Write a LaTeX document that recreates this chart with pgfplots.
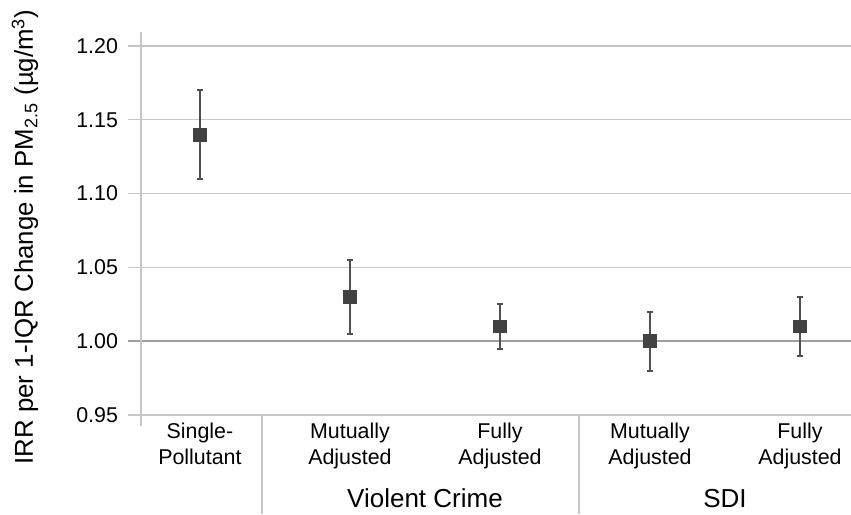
\documentclass[border=0pt]{standalone}
\usepackage{pgfplots}
\pgfplotsset{compat=1.18}
\usepackage{fontspec}
\setmainfont{Liberation Sans}
\definecolor{gridc}{HTML}{C6C6C6}
\definecolor{basec}{HTML}{9E9E9E}
\definecolor{markc}{HTML}{424242}
\definecolor{barc}{HTML}{505050}
\pgfplotstableread{
x y ep em
0 1.140 0.030 0.030
1 1.030 0.025 0.025
2 1.010 0.015 0.015
3 1.000 0.020 0.020
4 1.010 0.020 0.020
}\datatable
\begin{document}
\begin{tikzpicture}
\begin{axis}[
  scale only axis, width=355pt, height=197pt,
  xmin=-0.393, xmax=4.34, ymin=0.9425, ymax=1.2095,
  axis line style={draw=none},
  clip=false,
  xtick=data,
  xticklabels={{Single-\\Pollutant},{Mutually\\Adjusted},{Fully\\Adjusted},{Mutually\\Adjusted},{Fully\\Adjusted}},
  xtick align=inside,
  x tick style={draw=none},
  xticklabel style={align=center, font=\fontsize{10.7}{13}\selectfont, anchor=north, yshift=5pt},
  ytick={0.95,1.05,1.10,1.15,1.20},
  yticklabels={0.95,1.05,1.10,1.15,1.20},
  extra y ticks={1.00}, extra y tick labels={1.00},
  extra y tick style={grid style={basec, line width=1pt}, y tick style={basec, line width=1pt}},
  ymajorgrids, grid style={gridc, line width=0.6pt},
  y tick style={gridc, line width=0.6pt},
  ytick align=outside, major tick length=6.5pt,
  yticklabel style={font=\fontsize{10.7}{12}\selectfont, xshift=-1.5pt},
  ylabel={IRR per 1-IQR Change in PM\textsubscript{2.5} (µg/m\textsuperscript{3})},
  ylabel style={font=\fontsize{12.9}{15}\selectfont, at={([xshift=-54pt]rel axis cs:0,0.48)}, anchor=base},
]
\addplot[only marks, mark=square*, mark size=3.2pt, color=markc,
  mark options={fill=markc, draw=markc, rounded corners=0.8pt},
  error bars/.cd, y dir=both, y explicit,
  error bar style={barc, line width=1pt},
  error mark options={rotate=90, mark size=1.3pt, barc, line width=1pt}]
  table[x=x, y=y, y error plus=ep, y error minus=em] {\datatable};
\draw[gridc, line width=0.6pt] (rel axis cs:0,0) -- (rel axis cs:0,1);
\draw[gridc, line width=0.6pt] (axis cs:0.413,0.95) -- ([yshift=-44pt]axis cs:0.413,0.9425);
\draw[gridc, line width=0.6pt] (axis cs:2.527,0.95) -- ([yshift=-44pt]axis cs:2.527,0.9425);
\node[font=\fontsize{13}{15}\selectfont, anchor=base] at ([yshift=-40.5pt]axis cs:1.5,0.9425) {Violent Crime};
\node[font=\fontsize{13}{15}\selectfont, anchor=base] at ([yshift=-40.5pt]axis cs:3.5,0.9425) {SDI};
\end{axis}
\pgfresetboundingbox
\path[use as bounding box] (-70.5pt,-44pt) rectangle (355pt,213pt);
\end{tikzpicture}
\end{document}
